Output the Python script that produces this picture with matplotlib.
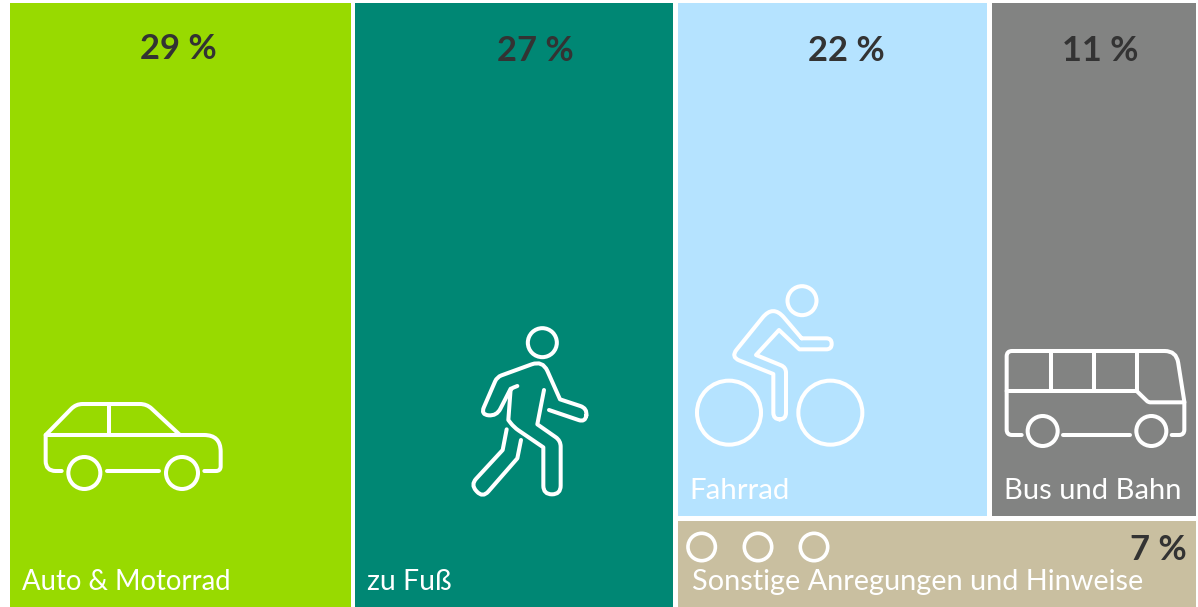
import matplotlib
matplotlib.use("Agg")
import matplotlib.pyplot as plt
from matplotlib.patches import Rectangle, Circle, PathPatch
from matplotlib.path import Path

categories = ["Auto & Motorrad", "zu Fuß", "Fahrrad", "Bus und Bahn", "Sonstige Anregungen und Hinweise"]
shares = [29, 27, 22, 11, 7]
colors = ["#98da00", "#008774", "#b5e3ff", "#828382", "#c9bfa0"]

# tile extents in picture pixels: left, top, right, bottom
tiles = [(10, 3, 351, 607), (355, 3, 673, 607), (678, 3, 987, 516), (992, 3, 1196, 516), (678, 521, 1196, 607)]
label_pos = [(22, 590), (367, 590), (689, 499), (1004, 499), (692, 590)]
label_size = [19.8, 20.5, 21.2, 21, 20.8]
share_pos = [(178, 59, "center"), (535, 61, "center"), (846, 61, "center"), (1100, 61, "center"), (1187, 560, "right")]

plt.rcParams["font.family"] = ["Lato", "DejaVu Sans"]

fig = plt.figure(figsize=(11.98, 6.07), dpi=100)
ax = fig.add_axes([0, 0, 1, 1])
ax.set_xlim(0, 1198)
ax.set_ylim(607, 0)
ax.axis("off")

for i in range(len(categories)):
    l, t, r, b = tiles[i]
    ax.add_patch(Rectangle((l, t), r - l, b - t, fc=colors[i], ec="none"))
    ax.text(label_pos[i][0], label_pos[i][1], categories[i], color="white", fontsize=label_size[i], va="baseline", ha="left")
    ax.text(share_pos[i][0], share_pos[i][1], f"{shares[i]} %", color="#333333", fontsize=24.8,
            fontweight="bold", va="baseline", ha=share_pos[i][2])


def stroke(origin, pts, closed=False, lw=2.9):
    xy = [(origin[0] + p[0] / 3, origin[1] + p[1] / 3) for p in pts]
    rad = [p[2] / 3 if len(p) > 2 else 0 for p in pts]
    verts, codes = [], []
    n = len(xy)
    for i in range(n):
        x, y = xy[i]
        if rad[i] > 0 and 0 < i < n - 1 or (rad[i] > 0 and closed):
            px, py = xy[i - 1]
            nx, ny = xy[(i + 1) % n]
            d1 = ((x - px) ** 2 + (y - py) ** 2) ** 0.5
            d2 = ((x - nx) ** 2 + (y - ny) ** 2) ** 0.5
            a = (x + (px - x) * rad[i] / d1, y + (py - y) * rad[i] / d1)
            c = (x + (nx - x) * rad[i] / d2, y + (ny - y) * rad[i] / d2)
            verts += [a, (x, y), c]
            codes += [Path.LINETO, Path.CURVE3, Path.CURVE3]
        else:
            verts.append((x, y))
            codes.append(Path.MOVETO if i == 0 else Path.LINETO)
    if closed:
        verts.append(verts[0])
        codes.append(Path.LINETO)
    ax.add_patch(PathPatch(Path(verts, codes), fc="none", ec="white", lw=lw, capstyle="round", joinstyle="round"))


def ring(origin, x, y, r, lw=2.9):
    ax.add_patch(Circle((origin[0] + x / 3, origin[1] + y / 3), r, fc="none", ec="white", lw=lw))


# car
o = (0, 380)
stroke(o, [(185, 273), (137, 273, 30), (137, 165), (662, 165, 50), (662, 273, 14), (613, 273)])
stroke(o, [(137, 165), (228, 72, 20), (440, 72, 20), (540, 165)])
stroke(o, [(327, 72), (327, 165)])
stroke(o, [(322, 273), (478, 273)])
ring(o, 253, 279, 16)
ring(o, 546, 279, 16)

# pedestrian
o = (440, 310)
ring(o, 307, 98, 14.5)
stroke(o, [(212, 236), (170, 318, 24), (122, 314, 24), (171, 201, 14), (308, 151, 35), (360, 268),
           (442, 295, 22), (436, 337, 21), (327, 300)])
stroke(o, [(312, 240), (292, 343), (362, 392, 18), (362, 553, 26), (310, 553, 26), (310, 412), (222, 352, 16),
           (205, 330), (212, 236, 8), (232, 228)])
stroke(o, [(200, 358), (188, 420), (92, 524, 24), (128, 564, 26), (232, 445), (243, 390)])

# bicycle
o = (680, 270)
ring(o, 366, 92, 14.5)
ring(o, 147, 428, 32)
ring(o, 451, 428, 32)
stroke(o, [(365, 205), (455, 205, 16), (455, 238, 16), (358, 238), (297, 180), (228, 255), (318, 292, 16),
           (318, 448, 20), (280, 448, 20), (280, 312), (152, 261, 28), (279, 104, 50)], closed=True)

# bus
o = (990, 330)
stroke(o, [(95, 315), (50, 315, 16), (50, 63, 16), (559, 63, 35), (583, 215), (583, 315, 16), (545, 315)])
stroke(o, [(50, 183), (440, 183), (475, 217, 6), (583, 217)])
stroke(o, [(182, 63), (182, 183)])
stroke(o, [(312, 63), (312, 183)])
stroke(o, [(440, 63), (440, 183)])
stroke(o, [(220, 315), (420, 315)])
ring(o, 158, 303, 15)
ring(o, 484, 303, 15)

# three dots in the beige tile
o = (670, 505)
for cx in (95, 264, 432):
    ring(o, cx, 126, 13.7, lw=2.6)

fig.savefig("out.png", dpi=100, facecolor="white")
